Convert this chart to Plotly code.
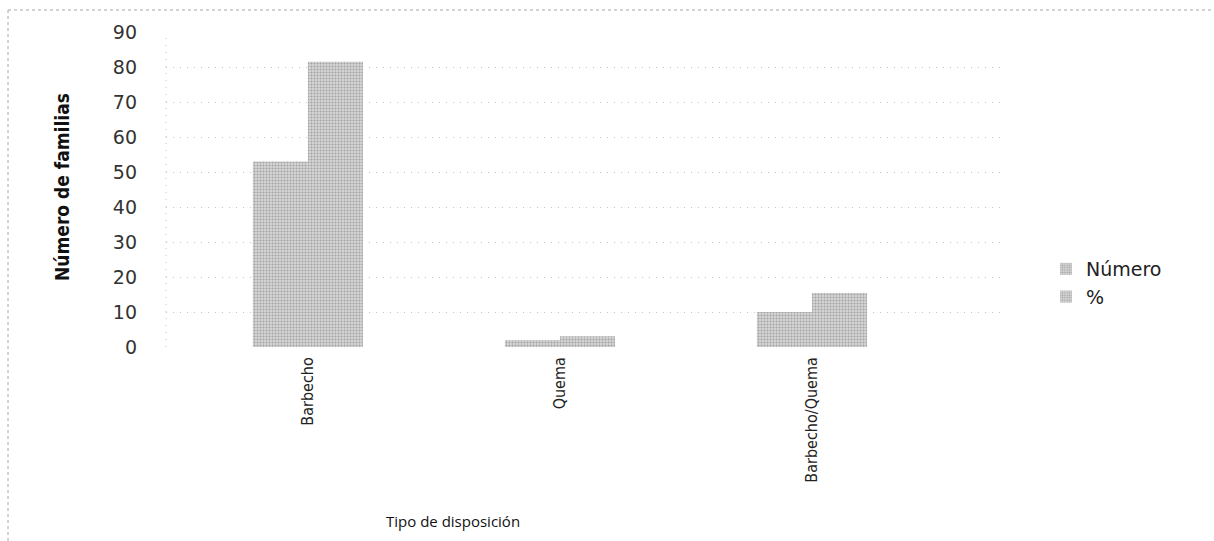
import plotly.graph_objects as go

categorias = ["Barbecho", "Quema", "Barbecho/Quema"]
numero = [53, 2, 10]
porcentaje = [81.5, 3.1, 15.4]
y_ticks = [0, 10, 20, 30, 40, 50, 60, 70, 80, 90]

L, R, T, B = 166, 214, 32, 194
W, H = 1214, 541
pw, ph = W - L - R, H - T - B


def px_x(x):
    return (x - L) / pw


def px_y(y):
    return (H - B - y) / ph


stipple = dict(shape=".", size=3, solidity=0.35, fgcolor="#6f6f6f", bgcolor="#d4d4d4")

fig = go.Figure()
fig.add_trace(go.Bar(
    x=categorias, y=numero, name="Número",
    marker=dict(color="#d4d4d4", line=dict(width=0), pattern=stipple),
))
fig.add_trace(go.Bar(
    x=categorias, y=porcentaje, name="%",
    marker=dict(color="#d4d4d4", line=dict(width=0), pattern=stipple),
))

fig.update_layout(
    width=W, height=H,
    margin=dict(l=L, r=R, t=T, b=B),
    paper_bgcolor="white", plot_bgcolor="white",
    barmode="group", bargap=0.563, bargroupgap=0,
    font=dict(family="DejaVu Sans", color="#222"),
    legend=dict(
        x=px_x(1046), y=px_y(250), xanchor="left", yanchor="top",
        font=dict(family="DejaVu Sans", size=19, color="#222"),
        itemwidth=30, tracegroupgap=8, bgcolor="rgba(0,0,0,0)",
    ),
    showlegend=True,
)

fig.update_xaxes(
    type="category", range=[-0.563, 2.746],
    tickangle=-90, showgrid=False, zeroline=False, showline=False,
    ticks="", tickfont=dict(family="DejaVu Sans Condensed, DejaVu Sans", size=16, color="#222"),
    ticklabelstandoff=6,
)
fig.update_yaxes(
    range=[0, 90], tickvals=y_ticks, ticktext=[str(v) for v in y_ticks],
    showgrid=True, gridcolor="#c4c4c4", griddash="1px,6px", gridwidth=1,
    zeroline=False, showline=False, ticks="",
    tickfont=dict(family="DejaVu Sans", size=19, color="#333"),
    ticklabelstandoff=28,
)

# left axis as a dotted line, plus the dotted outer frame
fig.add_shape(type="line", xref="paper", yref="paper", x0=0, x1=0, y0=0, y1=1,
              line=dict(color="#c4c4c4", width=1, dash="1px,6px"))
fig.add_shape(type="line", xref="paper", yref="paper",
              x0=px_x(8), x1=px_x(1214), y0=px_y(10), y1=px_y(10),
              line=dict(color="#a8a8a8", width=1, dash="dot"))
fig.add_shape(type="line", xref="paper", yref="paper",
              x0=px_x(8), x1=px_x(8), y0=px_y(10), y1=px_y(541),
              line=dict(color="#a8a8a8", width=1, dash="dot"))

fig.add_annotation(
    text="<b>Número de familias</b>", xref="paper", yref="paper",
    x=px_x(62), y=px_y(187), xanchor="center", yanchor="middle",
    textangle=-90, showarrow=False,
    font=dict(family="DejaVu Sans Condensed, DejaVu Sans", size=19, color="#111"),
)
fig.add_annotation(
    text="Tipo de disposición", xref="paper", yref="paper",
    x=px_x(453), y=px_y(521), xanchor="center", yanchor="middle",
    showarrow=False,
    font=dict(family="Open Sans", size=15, color="#111"),
)

fig.write_html("out.html")
